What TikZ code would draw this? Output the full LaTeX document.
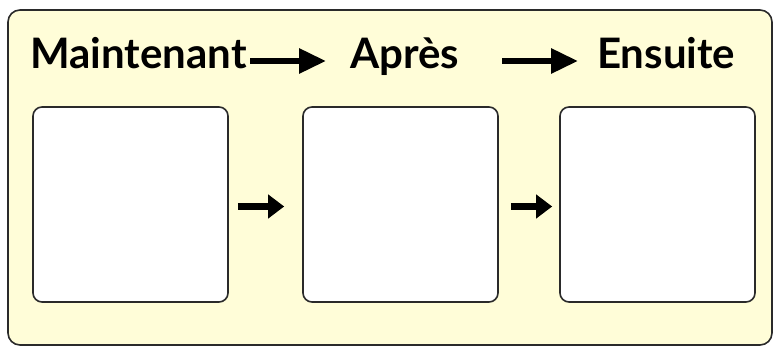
\documentclass[tikz,border=0pt]{standalone}
\usepackage{fontspec}
\setmainfont{Lato}
\usetikzlibrary{arrows.meta}
\definecolor{paper}{HTML}{FFFDD8}
\definecolor{edge}{HTML}{2A2A2A}
\tikzset{
  card/.style={draw=edge, line width=1.6pt, fill=white, rounded corners=9pt},
  title/.style={font=\fontsize{42}{44}\selectfont\bfseries, text=black, inner sep=0pt, anchor=base west},
  bigarrow/.style={line width=6pt, -{Triangle[length=27pt,width=24pt]}},
  smallarrow/.style={line width=7pt, -{Triangle[length=16pt,width=23pt]}}
}
\begin{document}
\begin{tikzpicture}[x=1pt,y=-1pt]
\useasboundingbox (0,0) rectangle (774,347);
\fill[white] (0,0) rectangle (774,347);
\draw[draw=edge, line width=1.6pt, fill=paper, rounded corners=12pt] (8,10) rectangle (772,345);
\node[title] (t1) at (30,69) {Maintenant};
\node[title] (t2) at (350,69) {Après};
\node[title] (t3) at (597,69) {Ensuite};
\coordinate (a1s) at (250,61); \coordinate (a1e) at (326,61);
\coordinate (a2s) at (502,61); \coordinate (a2e) at (578,61);
\draw[bigarrow] (a1s) -- (a1e);
\draw[bigarrow] (a2s) -- (a2e);
\node[card, minimum width=195pt, minimum height=195pt] (b1) at (130.5,204.5) {};
\node[card, minimum width=195pt, minimum height=195pt] (b2) at (400.5,204.5) {};
\node[card, minimum width=195pt, minimum height=195pt] (b3) at (657.5,204.5) {};
\draw[smallarrow] ([xshift=9pt,yshift=-2pt]b1.east) -- ([xshift=-18pt,yshift=-2pt]b2.west);
\draw[smallarrow] ([xshift=12pt,yshift=-2pt]b2.east) -- ([xshift=-7pt,yshift=-2pt]b3.west);
\end{tikzpicture}
\end{document}
